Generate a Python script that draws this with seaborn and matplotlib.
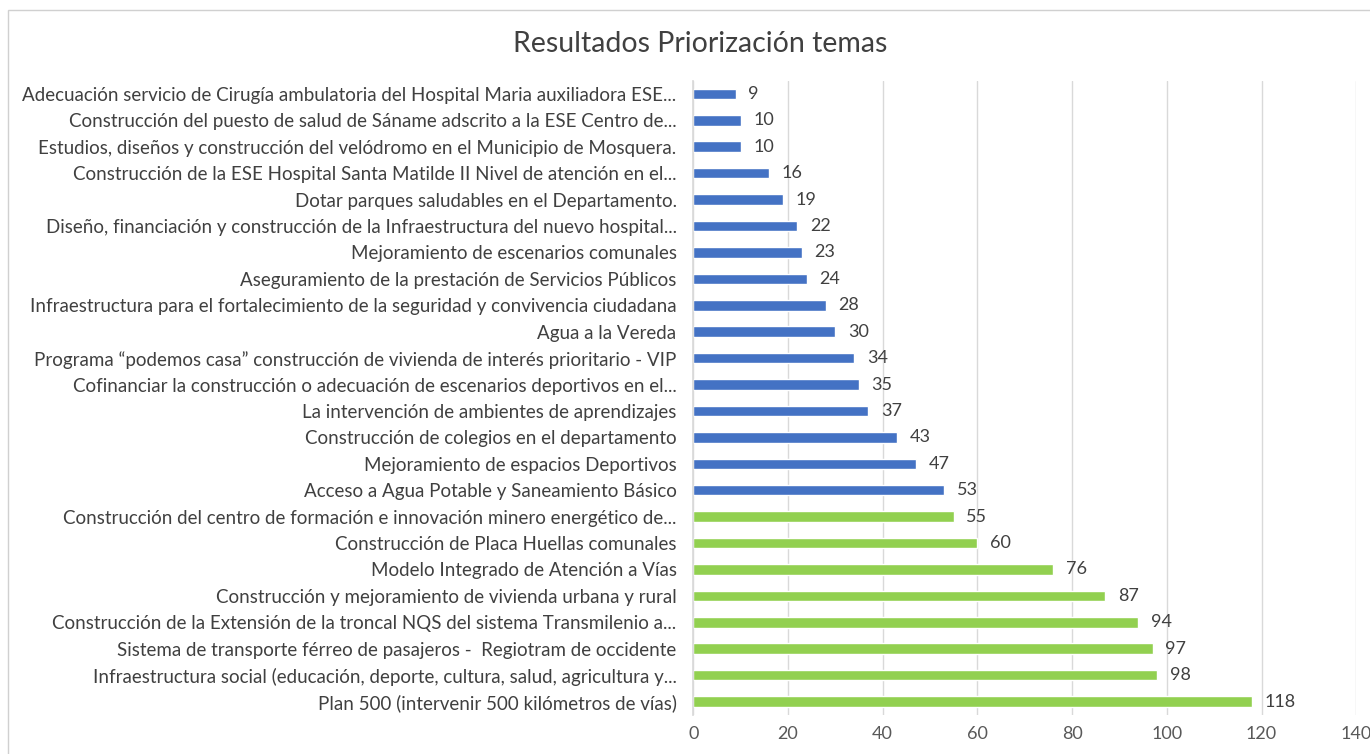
import matplotlib
matplotlib.use("Agg")
import matplotlib.pyplot as plt
import seaborn as sns
import pandas as pd

temas = [
    "Adecuación servicio de Cirugía ambulatoria del Hospital Maria auxiliadora ESE...",
    "Construcción del puesto de salud de Sáname adscrito a la ESE Centro de...",
    "Estudios, diseños y construcción del velódromo en el Municipio de Mosquera.",
    "Construcción de la ESE Hospital Santa Matilde II Nivel de atención en el...",
    "Dotar parques saludables en el Departamento.",
    "Diseño, financiación y construcción de la Infraestructura del nuevo hospital...",
    "Mejoramiento de escenarios comunales",
    "Aseguramiento de la prestación de Servicios Públicos",
    "Infraestructura para el fortalecimiento de la seguridad y convivencia ciudadana",
    "Agua a la Vereda",
    "Programa \u201cpodemos casa\u201d construcción de vivienda de interés prioritario - VIP",
    "Cofinanciar la construcción o adecuación de escenarios deportivos en el...",
    "La intervención de ambientes de aprendizajes",
    "Construcción de colegios en el departamento",
    "Mejoramiento de espacios Deportivos",
    "Acceso a Agua Potable y Saneamiento Básico",
    "Construcción del centro de formación e innovación minero energético de...",
    "Construcción de Placa Huellas comunales",
    "Modelo Integrado de Atención a Vías",
    "Construcción y mejoramiento de vivienda urbana y rural",
    "Construcción de la Extensión de la troncal NQS del sistema Transmilenio a...",
    "Sistema de transporte férreo de pasajeros -  Regiotram de occidente",
    "Infraestructura social (educación, deporte, cultura, salud, agricultura y...",
    "Plan 500 (intervenir 500 kilómetros de vías)",
]
votos = [9, 10, 10, 16, 19, 22, 23, 24, 28, 30, 34, 35, 37, 43, 47, 53,
         55, 60, 76, 87, 94, 97, 98, 118]
grupo = ["azul"] * 16 + ["verde"] * 8
x_ticks = [0, 20, 40, 60, 80, 100, 120, 140]

df = pd.DataFrame({"tema": temas, "votos": votos, "grupo": grupo})

sns.set_theme(style="white")
plt.rcParams["font.family"] = ["Lato", "DejaVu Sans"]

fig = plt.figure(figsize=(13.7, 7.54), dpi=100)
ax = fig.add_axes([0.506, 0.052, 0.484, 0.841])

sns.barplot(data=df, y="tema", x="votos", hue="grupo", orient="h",
            palette={"azul": "#4472C4", "verde": "#92D050"},
            width=0.4, dodge=False, legend=False, ax=ax, saturation=1)

for c in ax.containers:
    ax.bar_label(c, padding=9, fontsize=13, color="#404040")

ax.set_xlim(0, 140)
ax.set_xticks(x_ticks)
ax.set_xticklabels([str(t) for t in x_ticks], fontsize=13, color="#595959")
ax.tick_params(axis="y", labelsize=13.5, labelcolor="#404040", length=0, pad=12)
ax.tick_params(axis="x", length=0, pad=8)
ax.set_xlabel("")
ax.set_ylabel("")
ax.xaxis.grid(True, color="#D9D9D9", linewidth=1)
ax.set_axisbelow(True)
for s in ["top", "right", "bottom"]:
    ax.spines[s].set_visible(False)
ax.spines["left"].set_color("#D9D9D9")
ax.set_ylim(len(temas) - 0.5, -0.5)

fig.text(0.511, 0.942, "Resultados Priorización temas", ha="center", va="center",
         fontsize=20.5, color="#404040")

frame = plt.Rectangle((0.006, -0.01), 1.0, 0.997, transform=fig.transFigure,
                      fill=False, edgecolor="#D0D0D0", linewidth=1)
fig.add_artist(frame)

fig.savefig("out.png", dpi=100)
